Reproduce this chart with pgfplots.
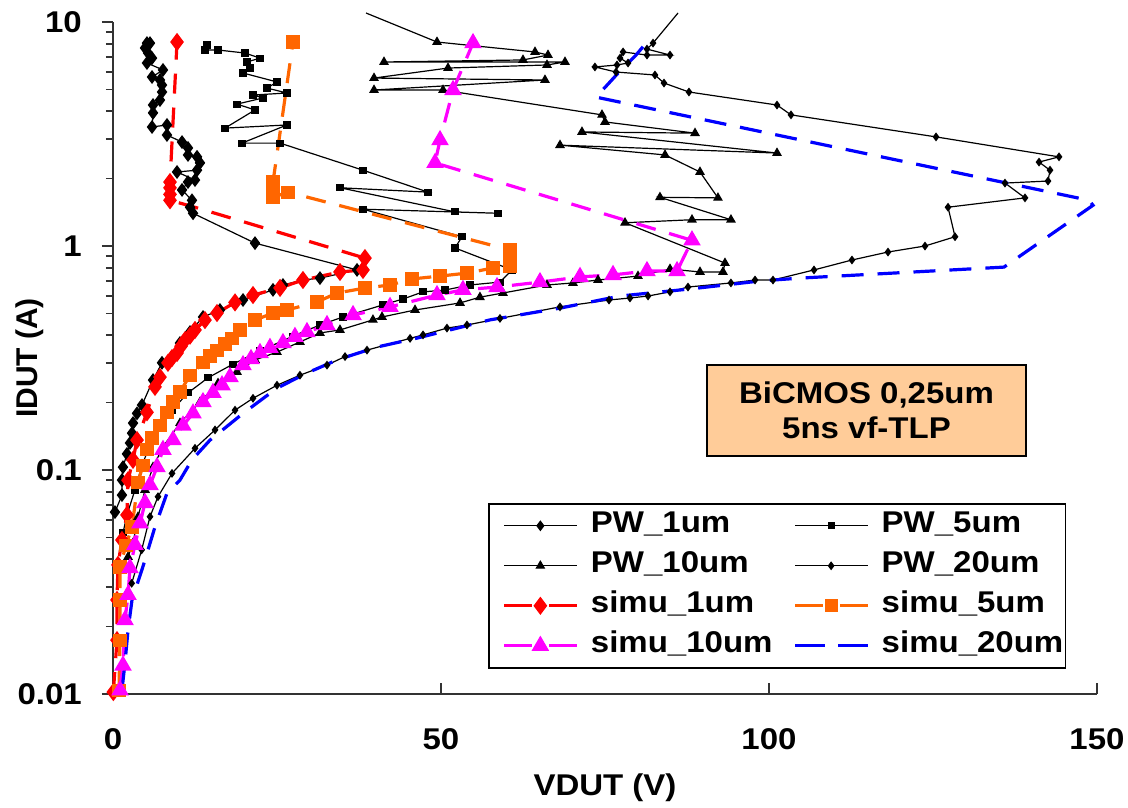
\documentclass[border=0pt]{standalone}
\usepackage{pgfplots}
\pgfplotsset{compat=1.18}
\usepackage{fontspec}
\setmainfont{Liberation Sans}[FakeStretch=1.1]
\newfontfamily\ylabfamily{Liberation Sans}
\definecolor{simred}{RGB}{255,0,0}
\definecolor{simorange}{RGB}{255,102,0}
\definecolor{simmag}{RGB}{255,0,255}
\definecolor{simblue}{RGB}{0,0,255}
\definecolor{peach}{RGB}{255,204,153}
\newcommand\bigfont{\fontsize{30}{36}\selectfont\bfseries}
\begin{document}
\begin{tikzpicture}
\useasboundingbox (0pt,0pt) rectangle (1128pt,807pt);
\begin{axis}[
  at={(113pt,113pt)}, anchor=south west,
  scale only axis, width=984pt, height=672pt,
  xmin=0, xmax=150, ymode=log, ymin=0.01, ymax=10,
  clip=false,
  axis x line=bottom, axis y line=left,
  axis line style={-, line width=2pt, black!80},
  xtick={0,50,100,150}, xticklabels={0,50,100,150},
  ytick={0.01,0.1,1,10}, yticklabels={0.01,0.1,1,10},
  tick align=inside,
  major tick length=11pt, minor tick length=7pt,
  every tick/.style={line width=1.8pt, black!80},
  major y tick style={xshift=-11pt},
  minor y tick style={xshift=-7pt},
  ticklabel style={font=\bigfont},
  xticklabel style={inner sep=0pt, anchor=north, yshift=-34pt},
  yticklabel style={inner sep=0pt, anchor=east, xshift=-31pt},
  xlabel={VDUT (V)}, ylabel={\ylabfamily IDUT (A)},
  xlabel style={at={(axis description cs:0.5,-0.1399)}, anchor=center, font=\bigfont},
  ylabel style={at={(axis description cs:-0.0845,0.5)}, anchor=center, font=\bigfont},
  legend columns=2,
  legend style={at={(rel axis cs:0.3811,0.2842)}, anchor=north west,
    draw=black, line width=1.5pt, fill=white, inner xsep=2pt, inner ysep=2pt,
    font=\bigfont, column sep=12pt, row sep=0pt,
    /tikz/every even column/.append style={column sep=9pt},
    cells={anchor=west},
    nodes={inner xsep=0pt, inner ysep=5pt, text height=22pt, text depth=8pt}},
  legend image code/.code={\path (-12pt,0pt); \draw[mark repeat=2,mark phase=2,#1] plot coordinates {(0pt,0pt) (36pt,0pt) (73pt,0pt)};},
]
% PW_1um
\addplot[black, line width=1.2pt, mark=diamond*, mark size=6pt, mark options={solid, fill=black},
  legend image post style={mark size=4.5pt}] coordinates {
(0.30,0.0649) (1.37,0.0773) (1.37,0.0902) (1.52,0.103) (2.13,0.118) (2.59,0.132) (2.90,0.146) (3.05,0.162)
(3.66,0.179) (4.42,0.195) (6.10,0.252) (7.47,0.301) (10.21,0.369) (11.74,0.413) (13.72,0.482) (16.31,0.518)
(19.82,0.574) (24.39,0.637) (25.91,0.670) (28.96,0.705) (31.55,0.719) (37.20,0.782) (21.65,1.03) (12.20,1.40)
(11.74,1.49) (12.04,1.60) (10.52,1.78) (11.43,1.93) (12.50,1.97) (9.76,2.14) (12.81,2.18) (13.26,2.35)
(12.81,2.50) (11.43,2.55) (11.43,2.74) (10.52,2.91) (8.23,3.13) (8.23,3.47) (5.95,3.40) (6.10,3.93)
(6.10,4.26) (7.16,4.48) (7.47,4.87) (7.47,5.23) (7.16,5.51) (5.95,5.68) (7.62,6.11) (5.18,6.56)
(5.95,6.90) (5.34,7.27) (4.88,7.66) (5.64,8.05) (5.18,8.05)
};
\addlegendentry{PW\_1um}
% PW_5um
\addplot[black, line width=1.2pt, mark=square*, mark size=3pt, mark options={solid, fill=black}] coordinates {
(1.52,0.0524) (2.13,0.063) (3.35,0.0815) (4.42,0.105) (5.64,0.129) (7.16,0.156) (8.99,0.185) (11.43,0.221)
(14.48,0.258) (18.29,0.297) (22.41,0.340) (27.44,0.396) (31.55,0.444) (35.06,0.482) (41.16,0.546) (44.21,0.580)
(47.26,0.624) (50.61,0.636) (54.42,0.670) (58.99,0.690) (60.82,0.782) (52.13,0.980) (53.20,1.10) (38.11,1.46)
(58.69,1.40) (52.13,1.42) (34.60,1.82) (48.02,1.74) (38.11,2.18) (25.46,2.88) (19.66,2.88) (26.52,3.47)
(17.07,3.36) (21.65,4.05) (18.90,4.30) (22.87,4.58) (21.34,4.72) (26.52,4.82) (23.48,5.07) (25.00,5.40)
(19.82,5.92) (20.88,6.23) (20.43,6.63) (22.41,6.90) (20.12,7.27) (16.01,7.50) (14.02,7.50) (14.33,7.89)
};
\addlegendentry{PW\_5um}
% PW_10um
\addplot[black, line width=1.2pt, mark=triangle*, mark size=4.5pt, mark options={solid, fill=black}] coordinates {
(2.29,0.0409) (3.05,0.0472) (3.81,0.0617) (4.88,0.0815) (6.10,0.103) (7.62,0.127) (10.21,0.162) (13.26,0.201)
(16.01,0.244) (18.90,0.274) (21.65,0.310) (25.00,0.336) (28.50,0.373) (31.55,0.409) (34.60,0.422) (39.63,0.468)
(41.01,0.482) (46.04,0.518) (52.90,0.557) (55.94,0.591) (59.45,0.617) (66.16,0.670) (70.12,0.684) (73.93,0.705)
(80.03,0.734) (84.91,0.789) (89.48,0.766) (92.98,0.766) (93.29,0.839) (78.05,1.27) (88.26,1.31) (94.20,1.31)
(83.38,1.65) (92.22,1.64) (89.48,2.14) (84.15,2.55) (68.14,2.82) (101.22,2.60) (71.49,3.23) (88.72,3.19)
(75.00,3.58) (74.54,3.85) (50.31,4.97) (39.79,4.97) (65.85,5.51) (39.79,5.62) (51.07,6.23) (66.16,6.43)
(68.90,6.63) (41.31,6.63) (62.50,6.77) (66.31,7.12) (64.33,7.35) (49.39,8.14)
};
\addlegendentry{PW\_10um}
% PW_20um
\addplot[black, line width=1.2pt, mark=diamond*, mark size=3.5pt, mark options={solid, fill=black}] coordinates {
(2.85,0.0312) (4.37,0.0440) (5.64,0.0619) (6.86,0.0760) (8.99,0.0966) (12.50,0.125) (15.55,0.151) (18.60,0.185)
(21.34,0.209) (25.00,0.239) (28.50,0.265) (32.62,0.294) (35.37,0.321) (38.72,0.343) (45.28,0.387) (47.26,0.401)
(50.91,0.430) (53.96,0.444) (58.99,0.475) (68.14,0.535) (75.61,0.574) (78.81,0.586) (81.56,0.598) (84.91,0.624)
(87.65,0.656) (94.20,0.684) (97.87,0.705) (100.61,0.705) (106.86,0.782) (112.65,0.866) (118.14,0.940) (123.78,1.00)
(128.36,1.10) (127.29,1.49) (139.02,1.64) (135.97,1.91) (142.53,1.95) (142.84,2.18) (141.16,2.37) (144.21,2.50)
(125.46,3.07) (103.35,3.85) (101.22,4.26) (87.80,4.87) (83.99,5.34) (82.62,5.80) (76.68,5.98) (73.47,6.30)
(76.83,6.43) (78.51,6.56) (77.29,6.90) (77.75,7.35) (81.40,7.12) (84.91,7.12) (81.40,7.57) (82.32,8.05)
};
\addlegendentry{PW\_20um}
% simu_1um
\addplot[simred, line width=3.2pt, dash pattern=on 20pt off 14pt, mark=diamond*, mark size=6.5pt, mark options={solid, fill=simred},
  mark indices={1,2,3,4,5,6,7,8,9,10,11,12,13,14,15,16,17,18,19,20,21,22,23,24,25,26,27,28,30,31,32,33,34},
  legend image post style={mark indices={2}, dash pattern=on 28pt off 17pt}] coordinates {
(0.05,0.0102) (0.61,0.0174) (0.61,0.0263) (0.76,0.0377) (1.37,0.0487) (2.13,0.063) (2.29,0.090) (3.05,0.111)
(3.66,0.136) (5.18,0.181) (6.40,0.235) (7.16,0.260) (8.38,0.301) (8.99,0.316) (9.76,0.333) (10.37,0.357)
(10.98,0.380) (11.74,0.398) (12.50,0.422) (14.02,0.467) (15.85,0.502) (18.60,0.56) (21.34,0.604) (25.46,0.65)
(28.96,0.705) (34.60,0.766) (38.11,0.782) (38.41,0.883) (12.81,1.48) (8.69,1.60) (8.69,1.70) (8.69,1.82)
(8.69,1.93) (9.76,8.14)
};
\addlegendentry{simu\_1um}
% simu_5um
\addplot[simorange, line width=3.2pt, dash pattern=on 20pt off 14pt, mark=square*, mark size=5pt, mark options={solid, fill=simorange},
  legend image post style={dash pattern=on 28pt off 17pt}] coordinates {
(0.91,0.0104) (1.07,0.0174) (1.07,0.0263) (1.07,0.0369) (1.98,0.0462) (2.90,0.0557) (3.81,0.0883) (4.57,0.105)
(5.18,0.123) (5.95,0.139) (7.16,0.158) (8.23,0.181) (9.15,0.201) (10.21,0.223) (11.74,0.265) (13.72,0.301)
(14.79,0.323) (15.85,0.343) (17.07,0.365) (18.14,0.388) (19.36,0.422) (21.65,0.467) (24.39,0.502) (26.52,0.518)
(31.10,0.562) (34.15,0.617) (38.41,0.649) (42.23,0.670) (45.58,0.713) (49.85,0.734) (53.96,0.757) (57.93,0.798)
(60.52,0.815) (60.52,0.883) (60.52,0.960) (26.68,1.74) (24.39,1.65) (24.39,1.78) (24.39,1.93) (27.44,8.14)
};
\addlegendentry{simu\_5um}
% simu_10um
\addplot[simmag, line width=3.2pt, dash pattern=on 20pt off 14pt, mark=triangle*, mark size=7pt, mark options={solid, fill=simmag},
  legend image post style={dash pattern=on 28pt off 17pt}] coordinates {
(1.07,0.0104) (1.52,0.0134) (1.83,0.0214) (2.29,0.0277) (2.59,0.0365) (3.35,0.0464) (4.12,0.0579) (4.88,0.0713)
(5.64,0.0857) (6.71,0.103) (7.62,0.123) (9.15,0.136) (10.67,0.158) (12.20,0.179) (13.72,0.201) (15.24,0.221)
(16.62,0.239) (17.84,0.260) (19.82,0.294) (21.04,0.313) (22.41,0.333) (23.93,0.351) (25.91,0.369) (27.74,0.393)
(29.57,0.413) (32.62,0.444) (36.59,0.492) (42.23,0.535) (49.39,0.604) (53.35,0.637) (58.54,0.656) (65.09,0.690)
(71.19,0.728) (76.22,0.743) (81.40,0.773) (85.98,0.773) (88.26,1.06) (49.09,2.35) (49.85,2.97) (51.83,4.97)
(54.88,8.05)
};
\addlegendentry{simu\_10um}
% simu_20um
\addplot[simblue, line width=3.2pt, dash pattern=on 22pt off 14pt,
  legend image post style={dash pattern=on 30pt off 13pt}] coordinates {
(1.37,0.0104) (1.83,0.0138) (2.29,0.0193) (2.90,0.0263) (4.57,0.0371) (6.40,0.0557) (8.23,0.0788) (10.21,0.0902)
(12.04,0.111) (14.79,0.136) (19.82,0.179) (25.00,0.232) (29.57,0.271) (34.15,0.310) (40.24,0.354) (46.34,0.388)
(51.37,0.422) (57.47,0.468) (68.14,0.528) (77.29,0.598) (87.96,0.643) (98.63,0.698) (104.72,0.719) (135.82,0.805)
(149.39,1.52) (148.78,1.60) (73.63,4.62) (75.61,5.34) (77.44,6.11) (79.73,7.12) (81.25,8.05)
};
\addlegendentry{simu\_20um}
% line ends running past the top of the plot (no marks there)
\addplot[black, line width=1.2pt, forget plot] coordinates {(49.39,8.14) (38.57,10.97)};
\addplot[black, line width=1.2pt, forget plot] coordinates {(82.32,8.05) (86.13,10.97)};
\end{axis}
\node[draw=black, line width=1.2pt, fill=peach, minimum width=319pt, minimum height=91pt, align=center, inner sep=0pt, font=\fontsize{30}{35}\selectfont\bfseries] at (866.5pt,396.5pt) {BiCMOS 0,25um\\5ns vf-TLP};
\end{tikzpicture}
\end{document}
